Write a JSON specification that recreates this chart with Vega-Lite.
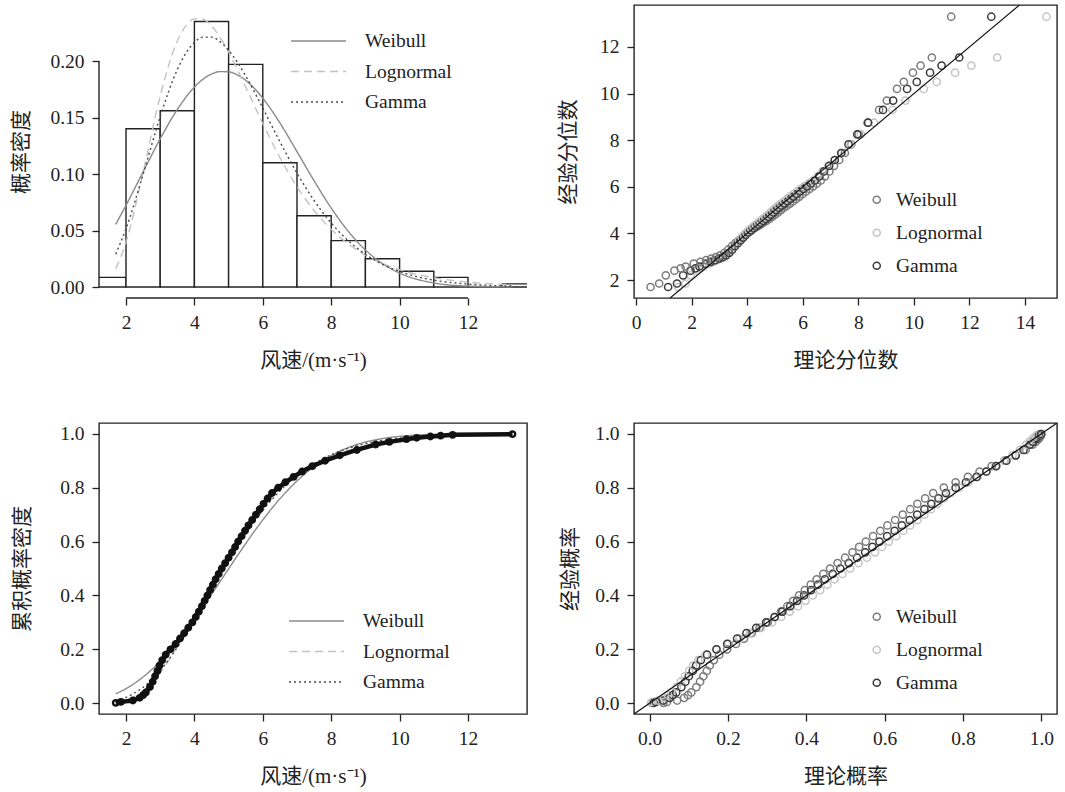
{
  "$schema": "https://vega.github.io/schema/vega-lite/v6.json",
  "autosize": {"type": "pad"},
  "padding": {"left": 10, "top": 4, "right": 5, "bottom": 5},
  "background": "white",
  "columns": 2,
  "spacing": {"row": 125, "column": 107},
  "bounds": "flush",
  "resolve": {
    "scale": {"x": "independent", "y": "independent", "color": "independent", "strokeDash": "independent"},
    "axis": {"x": "independent", "y": "independent"},
    "legend": {"color": "independent", "strokeDash": "independent"}
  },
  "config": {
    "font": "Liberation Serif, Times New Roman, serif",
    "view": {"stroke": "#222", "strokeWidth": 1.4},
    "axis": {
      "domain": false, "grid": false, "ticks": true, "tickColor": "#222", "tickWidth": 1.3, "tickSize": 7,
      "labelFont": "Liberation Serif, Times New Roman, serif", "labelFontSize": 19.5, "labelColor": "#222", "labelPadding": 8,
      "labelFlush": false, "labelOverlap": false,
      "titleFont": "Liberation Serif, Noto Sans CJK SC, serif", "titleFontSize": 21, "titleFontWeight": "normal", "titleColor": "#222"
    },
    "axisX": {"titlePadding": 18},
    "legend": {"labelFont": "Liberation Serif, Times New Roman, serif", "labelFontSize": 19.5, "labelColor": "#222", "padding": 0}
  },
  "datasets": {
    "hist": [
      {"lo": 1, "hi": 2, "d": 0.0085}, {"lo": 2, "hi": 3, "d": 0.140}, {"lo": 3, "hi": 4, "d": 0.156},
      {"lo": 4, "hi": 5, "d": 0.235}, {"lo": 5, "hi": 6, "d": 0.197}, {"lo": 6, "hi": 7, "d": 0.110},
      {"lo": 7, "hi": 8, "d": 0.063}, {"lo": 8, "hi": 9, "d": 0.041}, {"lo": 9, "hi": 10, "d": 0.025},
      {"lo": 10, "hi": 11, "d": 0.014}, {"lo": 11, "hi": 12, "d": 0.0085}, {"lo": 12, "hi": 13, "d": 0},
      {"lo": 13, "hi": 14, "d": 0.0028}
    ],
    "pdf": [
      {"x": 1.7, "Weibull": 0.0555, "Lognormal": 0.0161, "Gamma": 0.0291},
      {"x": 2.0, "Weibull": 0.0723, "Lognormal": 0.0396, "Gamma": 0.0515},
      {"x": 2.5, "Weibull": 0.1019, "Lognormal": 0.1014, "Gamma": 0.0998},
      {"x": 3.0, "Weibull": 0.1312, "Lognormal": 0.1691, "Gamma": 0.1509},
      {"x": 3.5, "Weibull": 0.1571, "Lognormal": 0.2177, "Gamma": 0.1924},
      {"x": 3.75, "Weibull": 0.1679, "Lognormal": 0.2311, "Gamma": 0.2068},
      {"x": 4.0, "Weibull": 0.1769, "Lognormal": 0.2373, "Gamma": 0.2164},
      {"x": 4.25, "Weibull": 0.1838, "Lognormal": 0.2369, "Gamma": 0.2211},
      {"x": 4.5, "Weibull": 0.1884, "Lognormal": 0.2311, "Gamma": 0.2211},
      {"x": 4.75, "Weibull": 0.1906, "Lognormal": 0.2210, "Gamma": 0.2171},
      {"x": 5.0, "Weibull": 0.1904, "Lognormal": 0.2080, "Gamma": 0.2095},
      {"x": 5.25, "Weibull": 0.1878, "Lognormal": 0.1930, "Gamma": 0.1992},
      {"x": 5.5, "Weibull": 0.1829, "Lognormal": 0.1770, "Gamma": 0.1868},
      {"x": 6.0, "Weibull": 0.1671, "Lognormal": 0.1446, "Gamma": 0.1583},
      {"x": 6.5, "Weibull": 0.1452, "Lognormal": 0.1146, "Gamma": 0.1286},
      {"x": 7.0, "Weibull": 0.1198, "Lognormal": 0.0888, "Gamma": 0.1008},
      {"x": 7.5, "Weibull": 0.0940, "Lognormal": 0.0677, "Gamma": 0.0766},
      {"x": 8.0, "Weibull": 0.0699, "Lognormal": 0.0510, "Gamma": 0.0566},
      {"x": 8.5, "Weibull": 0.0492, "Lognormal": 0.0381, "Gamma": 0.0409},
      {"x": 9.0, "Weibull": 0.0328, "Lognormal": 0.0282, "Gamma": 0.0289},
      {"x": 9.5, "Weibull": 0.0207, "Lognormal": 0.0208, "Gamma": 0.0200},
      {"x": 10.0, "Weibull": 0.0123, "Lognormal": 0.0153, "Gamma": 0.0137},
      {"x": 11.0, "Weibull": 0.0036, "Lognormal": 0.0083, "Gamma": 0.0061},
      {"x": 12.0, "Weibull": 0.0008, "Lognormal": 0.0044, "Gamma": 0.0026},
      {"x": 13.3, "Weibull": 0.0001, "Lognormal": 0.0020, "Gamma": 0.0008}
    ],
    "cdf": [
      {"x": 1.7, "Weibull": 0.0349, "Lognormal": 0.0035, "Gamma": 0.0101},
      {"x": 2.0, "Weibull": 0.0541, "Lognormal": 0.0115, "Gamma": 0.0220},
      {"x": 2.5, "Weibull": 0.0976, "Lognormal": 0.0459, "Gamma": 0.0591},
      {"x": 3.0, "Weibull": 0.1559, "Lognormal": 0.1139, "Gamma": 0.1214},
      {"x": 3.5, "Weibull": 0.2282, "Lognormal": 0.2117, "Gamma": 0.2075},
      {"x": 3.75, "Weibull": 0.2689, "Lognormal": 0.2679, "Gamma": 0.2575},
      {"x": 4.0, "Weibull": 0.3120, "Lognormal": 0.3266, "Gamma": 0.3104},
      {"x": 4.25, "Weibull": 0.3572, "Lognormal": 0.3860, "Gamma": 0.3653},
      {"x": 4.5, "Weibull": 0.4037, "Lognormal": 0.4446, "Gamma": 0.4209},
      {"x": 4.75, "Weibull": 0.4511, "Lognormal": 0.5012, "Gamma": 0.4759},
      {"x": 5.0, "Weibull": 0.4988, "Lognormal": 0.5549, "Gamma": 0.5295},
      {"x": 5.25, "Weibull": 0.5461, "Lognormal": 0.6050, "Gamma": 0.5808},
      {"x": 5.5, "Weibull": 0.5925, "Lognormal": 0.6513, "Gamma": 0.6293},
      {"x": 6.0, "Weibull": 0.6803, "Lognormal": 0.7317, "Gamma": 0.7160},
      {"x": 6.5, "Weibull": 0.7586, "Lognormal": 0.7963, "Gamma": 0.7878},
      {"x": 7.0, "Weibull": 0.8250, "Lognormal": 0.8469, "Gamma": 0.8450},
      {"x": 7.5, "Weibull": 0.8783, "Lognormal": 0.8859, "Gamma": 0.8891},
      {"x": 8.0, "Weibull": 0.9192, "Lognormal": 0.9154, "Gamma": 0.9221},
      {"x": 8.5, "Weibull": 0.9488, "Lognormal": 0.9375, "Gamma": 0.9461},
      {"x": 9.0, "Weibull": 0.9691, "Lognormal": 0.9540, "Gamma": 0.9633},
      {"x": 9.5, "Weibull": 0.9823, "Lognormal": 0.9662, "Gamma": 0.9754},
      {"x": 10.0, "Weibull": 0.9904, "Lognormal": 0.9751, "Gamma": 0.9836},
      {"x": 11.0, "Weibull": 0.9976, "Lognormal": 0.9865, "Gamma": 0.9930},
      {"x": 12.0, "Weibull": 0.9995, "Lognormal": 0.9927, "Gamma": 0.9971},
      {"x": 13.3, "Weibull": 1.0000, "Lognormal": 0.9967, "Gamma": 0.9991}
    ],
    "qq": [
      {"p": 0.0014, "emp": 1.70, "Weibull": 0.524, "Lognormal": 1.524, "Gamma": 1.156},
      {"p": 0.005, "emp": 1.85, "Weibull": 0.834, "Lognormal": 1.783, "Gamma": 1.476},
      {"p": 0.01, "emp": 2.20, "Weibull": 1.074, "Lognormal": 1.960, "Gamma": 1.696},
      {"p": 0.02, "emp": 2.40, "Weibull": 1.384, "Lognormal": 2.174, "Gamma": 1.959},
      {"p": 0.03, "emp": 2.50, "Weibull": 1.607, "Lognormal": 2.322, "Gamma": 2.139},
      {"p": 0.04, "emp": 2.58, "Weibull": 1.788, "Lognormal": 2.439, "Gamma": 2.282},
      {"p": 0.06, "emp": 2.70, "Weibull": 2.079, "Lognormal": 2.628, "Gamma": 2.509},
      {"p": 0.08, "emp": 2.78, "Weibull": 2.318, "Lognormal": 2.782, "Gamma": 2.692},
      {"p": 0.10, "emp": 2.85, "Weibull": 2.523, "Lognormal": 2.915, "Gamma": 2.850},
      {"p": 0.12, "emp": 2.92, "Weibull": 2.707, "Lognormal": 3.036, "Gamma": 2.990},
      {"p": 0.14, "emp": 2.98, "Weibull": 2.875, "Lognormal": 3.147, "Gamma": 3.120},
      {"p": 0.16, "emp": 3.06, "Weibull": 3.031, "Lognormal": 3.251, "Gamma": 3.239},
      {"p": 0.18, "emp": 3.16, "Weibull": 3.177, "Lognormal": 3.351, "Gamma": 3.353},
      {"p": 0.20, "emp": 3.30, "Weibull": 3.315, "Lognormal": 3.446, "Gamma": 3.461},
      {"p": 0.22, "emp": 3.45, "Weibull": 3.447, "Lognormal": 3.538, "Gamma": 3.564},
      {"p": 0.24, "emp": 3.58, "Weibull": 3.574, "Lognormal": 3.628, "Gamma": 3.665},
      {"p": 0.26, "emp": 3.70, "Weibull": 3.697, "Lognormal": 3.716, "Gamma": 3.762},
      {"p": 0.28, "emp": 3.82, "Weibull": 3.816, "Lognormal": 3.802, "Gamma": 3.858},
      {"p": 0.30, "emp": 3.94, "Weibull": 3.932, "Lognormal": 3.887, "Gamma": 3.952},
      {"p": 0.32, "emp": 4.04, "Weibull": 4.045, "Lognormal": 3.972, "Gamma": 4.044},
      {"p": 0.34, "emp": 4.13, "Weibull": 4.156, "Lognormal": 4.057, "Gamma": 4.135},
      {"p": 0.36, "emp": 4.22, "Weibull": 4.266, "Lognormal": 4.141, "Gamma": 4.226},
      {"p": 0.38, "emp": 4.30, "Weibull": 4.373, "Lognormal": 4.225, "Gamma": 4.316},
      {"p": 0.40, "emp": 4.38, "Weibull": 4.480, "Lognormal": 4.309, "Gamma": 4.406},
      {"p": 0.42, "emp": 4.46, "Weibull": 4.586, "Lognormal": 4.395, "Gamma": 4.496},
      {"p": 0.44, "emp": 4.54, "Weibull": 4.692, "Lognormal": 4.480, "Gamma": 4.586},
      {"p": 0.46, "emp": 4.62, "Weibull": 4.797, "Lognormal": 4.567, "Gamma": 4.677},
      {"p": 0.48, "emp": 4.71, "Weibull": 4.901, "Lognormal": 4.655, "Gamma": 4.769},
      {"p": 0.50, "emp": 4.80, "Weibull": 5.006, "Lognormal": 4.745, "Gamma": 4.861},
      {"p": 0.52, "emp": 4.90, "Weibull": 5.111, "Lognormal": 4.837, "Gamma": 4.955},
      {"p": 0.54, "emp": 5.00, "Weibull": 5.217, "Lognormal": 4.930, "Gamma": 5.050},
      {"p": 0.56, "emp": 5.10, "Weibull": 5.324, "Lognormal": 5.025, "Gamma": 5.147},
      {"p": 0.58, "emp": 5.19, "Weibull": 5.432, "Lognormal": 5.123, "Gamma": 5.246},
      {"p": 0.60, "emp": 5.28, "Weibull": 5.541, "Lognormal": 5.224, "Gamma": 5.347},
      {"p": 0.62, "emp": 5.38, "Weibull": 5.652, "Lognormal": 5.329, "Gamma": 5.451},
      {"p": 0.64, "emp": 5.48, "Weibull": 5.765, "Lognormal": 5.437, "Gamma": 5.558},
      {"p": 0.66, "emp": 5.58, "Weibull": 5.880, "Lognormal": 5.550, "Gamma": 5.668},
      {"p": 0.68, "emp": 5.69, "Weibull": 5.998, "Lognormal": 5.667, "Gamma": 5.782},
      {"p": 0.70, "emp": 5.80, "Weibull": 6.119, "Lognormal": 5.791, "Gamma": 5.901},
      {"p": 0.72, "emp": 5.91, "Weibull": 6.245, "Lognormal": 5.921, "Gamma": 6.025},
      {"p": 0.74, "emp": 6.02, "Weibull": 6.375, "Lognormal": 6.058, "Gamma": 6.156},
      {"p": 0.76, "emp": 6.14, "Weibull": 6.510, "Lognormal": 6.205, "Gamma": 6.294},
      {"p": 0.78, "emp": 6.27, "Weibull": 6.651, "Lognormal": 6.362, "Gamma": 6.440},
      {"p": 0.80, "emp": 6.45, "Weibull": 6.801, "Lognormal": 6.532, "Gamma": 6.597},
      {"p": 0.82, "emp": 6.66, "Weibull": 6.959, "Lognormal": 6.718, "Gamma": 6.766},
      {"p": 0.84, "emp": 6.90, "Weibull": 7.129, "Lognormal": 6.923, "Gamma": 6.951},
      {"p": 0.86, "emp": 7.15, "Weibull": 7.314, "Lognormal": 7.152, "Gamma": 7.154},
      {"p": 0.88, "emp": 7.45, "Weibull": 7.518, "Lognormal": 7.415, "Gamma": 7.385},
      {"p": 0.90, "emp": 7.82, "Weibull": 7.747, "Lognormal": 7.721, "Gamma": 7.649},
      {"p": 0.92, "emp": 8.25, "Weibull": 8.012, "Lognormal": 8.092, "Gamma": 7.963},
      {"p": 0.94, "emp": 8.75, "Weibull": 8.332, "Lognormal": 8.567, "Gamma": 8.357},
      {"p": 0.96, "emp": 9.30, "Weibull": 8.750, "Lognormal": 9.230, "Gamma": 8.890},
      {"p": 0.97, "emp": 9.70, "Weibull": 9.027, "Lognormal": 9.696, "Gamma": 9.255},
      {"p": 0.98, "emp": 10.2, "Weibull": 9.393, "Lognormal": 10.356, "Gamma": 9.757},
      {"p": 0.985, "emp": 10.5, "Weibull": 9.639, "Lognormal": 10.823, "Gamma": 10.105},
      {"p": 0.99, "emp": 10.9, "Weibull": 9.967, "Lognormal": 11.484, "Gamma": 10.583},
      {"p": 0.993, "emp": 11.2, "Weibull": 10.242, "Lognormal": 12.071, "Gamma": 10.998},
      {"p": 0.996, "emp": 11.55, "Weibull": 10.648, "Lognormal": 12.999, "Gamma": 11.633},
      {"p": 0.9986, "emp": 13.3, "Weibull": 11.343, "Lognormal": 14.773, "Gamma": 12.787}
    ],
    "pp": [
      {"p": 0.0014, "Weibull": 0.0351, "Lognormal": 0.0035, "Gamma": 0.0101},
      {"p": 0.005, "Weibull": 0.0443, "Lognormal": 0.0069, "Gamma": 0.0159},
      {"p": 0.01, "Weibull": 0.0701, "Lognormal": 0.0218, "Gamma": 0.0343},
      {"p": 0.02, "Weibull": 0.0880, "Lognormal": 0.0367, "Gamma": 0.0504},
      {"p": 0.03, "Weibull": 0.0978, "Lognormal": 0.0465, "Gamma": 0.0592},
      {"p": 0.04, "Weibull": 0.1062, "Lognormal": 0.0549, "Gamma": 0.0678},
      {"p": 0.06, "Weibull": 0.1192, "Lognormal": 0.0694, "Gamma": 0.0810},
      {"p": 0.08, "Weibull": 0.1287, "Lognormal": 0.0797, "Gamma": 0.0911},
      {"p": 0.10, "Weibull": 0.1370, "Lognormal": 0.0902, "Gamma": 0.1000},
      {"p": 0.12, "Weibull": 0.1458, "Lognormal": 0.1008, "Gamma": 0.1100},
      {"p": 0.14, "Weibull": 0.1535, "Lognormal": 0.1107, "Gamma": 0.1186},
      {"p": 0.16, "Weibull": 0.1640, "Lognormal": 0.1243, "Gamma": 0.1308},
      {"p": 0.18, "Weibull": 0.1777, "Lognormal": 0.1425, "Gamma": 0.1467},
      {"p": 0.20, "Weibull": 0.1978, "Lognormal": 0.1698, "Gamma": 0.1707},
      {"p": 0.22, "Weibull": 0.2205, "Lognormal": 0.2009, "Gamma": 0.1980},
      {"p": 0.24, "Weibull": 0.2410, "Lognormal": 0.2293, "Gamma": 0.2232},
      {"p": 0.26, "Weibull": 0.2605, "Lognormal": 0.2564, "Gamma": 0.2472},
      {"p": 0.28, "Weibull": 0.2807, "Lognormal": 0.2842, "Gamma": 0.2721},
      {"p": 0.30, "Weibull": 0.3014, "Lognormal": 0.3125, "Gamma": 0.2974},
      {"p": 0.32, "Weibull": 0.3191, "Lognormal": 0.3360, "Gamma": 0.3191},
      {"p": 0.34, "Weibull": 0.3353, "Lognormal": 0.3574, "Gamma": 0.3389},
      {"p": 0.36, "Weibull": 0.3516, "Lognormal": 0.3788, "Gamma": 0.3587},
      {"p": 0.38, "Weibull": 0.3664, "Lognormal": 0.3979, "Gamma": 0.3764},
      {"p": 0.40, "Weibull": 0.3813, "Lognormal": 0.4165, "Gamma": 0.3942},
      {"p": 0.42, "Weibull": 0.3963, "Lognormal": 0.4353, "Gamma": 0.4120},
      {"p": 0.44, "Weibull": 0.4113, "Lognormal": 0.4538, "Gamma": 0.4298},
      {"p": 0.46, "Weibull": 0.4264, "Lognormal": 0.4720, "Gamma": 0.4475},
      {"p": 0.48, "Weibull": 0.4434, "Lognormal": 0.4922, "Gamma": 0.4672},
      {"p": 0.50, "Weibull": 0.4606, "Lognormal": 0.5120, "Gamma": 0.4867},
      {"p": 0.52, "Weibull": 0.4798, "Lognormal": 0.5335, "Gamma": 0.5083},
      {"p": 0.54, "Weibull": 0.4989, "Lognormal": 0.5547, "Gamma": 0.5295},
      {"p": 0.56, "Weibull": 0.5179, "Lognormal": 0.5753, "Gamma": 0.5503},
      {"p": 0.58, "Weibull": 0.5349, "Lognormal": 0.5933, "Gamma": 0.5687},
      {"p": 0.60, "Weibull": 0.5518, "Lognormal": 0.6107, "Gamma": 0.5867},
      {"p": 0.62, "Weibull": 0.5704, "Lognormal": 0.6294, "Gamma": 0.6063},
      {"p": 0.64, "Weibull": 0.5888, "Lognormal": 0.6476, "Gamma": 0.6254},
      {"p": 0.66, "Weibull": 0.6070, "Lognormal": 0.6651, "Gamma": 0.6440},
      {"p": 0.68, "Weibull": 0.6267, "Lognormal": 0.6837, "Gamma": 0.6639},
      {"p": 0.70, "Weibull": 0.6461, "Lognormal": 0.7014, "Gamma": 0.6830},
      {"p": 0.72, "Weibull": 0.6651, "Lognormal": 0.7183, "Gamma": 0.7015},
      {"p": 0.74, "Weibull": 0.6836, "Lognormal": 0.7345, "Gamma": 0.7192},
      {"p": 0.76, "Weibull": 0.7033, "Lognormal": 0.7512, "Gamma": 0.7376},
      {"p": 0.78, "Weibull": 0.7238, "Lognormal": 0.7683, "Gamma": 0.7565},
      {"p": 0.80, "Weibull": 0.7511, "Lognormal": 0.7904, "Gamma": 0.7813},
      {"p": 0.82, "Weibull": 0.7812, "Lognormal": 0.8138, "Gamma": 0.8075},
      {"p": 0.84, "Weibull": 0.8125, "Lognormal": 0.8378, "Gamma": 0.8345},
      {"p": 0.86, "Weibull": 0.8423, "Lognormal": 0.8598, "Gamma": 0.8596},
      {"p": 0.88, "Weibull": 0.8733, "Lognormal": 0.8823, "Gamma": 0.8849},
      {"p": 0.90, "Weibull": 0.9055, "Lognormal": 0.9053, "Gamma": 0.9109},
      {"p": 0.92, "Weibull": 0.9349, "Lognormal": 0.9267, "Gamma": 0.9346},
      {"p": 0.94, "Weibull": 0.9600, "Lognormal": 0.9455, "Gamma": 0.9547},
      {"p": 0.96, "Weibull": 0.9775, "Lognormal": 0.9615, "Gamma": 0.9709},
      {"p": 0.97, "Weibull": 0.9859, "Lognormal": 0.9701, "Gamma": 0.9789},
      {"p": 0.98, "Weibull": 0.9925, "Lognormal": 0.9776, "Gamma": 0.9860},
      {"p": 0.985, "Weibull": 0.9949, "Lognormal": 0.9815, "Gamma": 0.9891},
      {"p": 0.99, "Weibull": 0.9969, "Lognormal": 0.9856, "Gamma": 0.9923},
      {"p": 0.993, "Weibull": 0.9981, "Lognormal": 0.9879, "Gamma": 0.9940},
      {"p": 0.996, "Weibull": 0.9988, "Lognormal": 0.9903, "Gamma": 0.9956},
      {"p": 0.9986, "Weibull": 1.0000, "Lognormal": 0.9967, "Gamma": 0.9991}
    ]
  },
  "concat": [
    {
      "width": 428, "height": 293,
      "view": {"stroke": null},
      "layer": [
        {
          "data": {"name": "hist"},
          "mark": {"type": "rect", "fill": "white", "stroke": "#222", "strokeWidth": 1.4, "clip": true},
          "encoding": {
            "x": {"field": "lo", "type": "quantitative", "title": "风速/(m·s⁻¹)",
                  "scale": {"domain": [1.2105, 13.725], "nice": false, "zero": false},
                  "axis": {"values": [2, 4, 6, 8, 10, 12]}},
            "x2": {"field": "hi"},
            "y": {"field": "d", "type": "quantitative", "title": "概率密度",
                  "scale": {"domain": [-0.00973, 0.24956], "nice": false, "zero": false},
                  "axis": {"values": [0, 0.05, 0.1, 0.15, 0.2], "format": ".2f", "titlePadding": 18}},
            "y2": {"datum": 0}
          }
        },
        {
          "data": {"name": "pdf"},
          "transform": [{"fold": ["Weibull", "Lognormal", "Gamma"], "as": ["dist", "f"]}],
          "mark": {"type": "line", "strokeWidth": 1.4, "clip": true, "interpolate": "monotone"},
          "encoding": {
            "x": {"field": "x", "type": "quantitative", "title": "风速/(m·s⁻¹)"},
            "y": {"field": "f", "type": "quantitative", "title": "概率密度"},
            "color": {"field": "dist", "type": "nominal",
                      "scale": {"domain": ["Weibull", "Lognormal", "Gamma"], "range": ["#8a8a8a", "#c2c2c2", "#4a4a4a"]},
                      "legend": {"title": null, "orient": "none", "legendX": 205, "legendY": 21.5, "symbolType": "M-2,0H2", "symbolSize": 756, "symbolStrokeWidth": 1.4, "labelOffset": 32, "rowPadding": 6.5}},
            "strokeDash": {"field": "dist", "type": "nominal",
                      "scale": {"domain": ["Weibull", "Lognormal", "Gamma"], "range": [[1, 0], [8, 5], [2, 3]]},
                      "legend": {"title": null, "orient": "none", "legendX": 205, "legendY": 21.5, "symbolType": "M-2,0H2", "symbolSize": 756, "symbolStrokeWidth": 1.4, "labelOffset": 32, "rowPadding": 6.5}}
          }
        },
        {
          "data": {"values": [{}]},
          "mark": {"type": "rule", "color": "#222", "strokeWidth": 1.4},
          "encoding": {"x": {"datum": 2}, "x2": {"datum": 12}, "y": {"datum": -0.00973}}
        },
        {
          "data": {"values": [{}]},
          "mark": {"type": "rule", "color": "#222", "strokeWidth": 1.4},
          "encoding": {"x": {"datum": 1.2105}, "y": {"datum": 0}, "y2": {"datum": 0.2}}
        }
      ]
    },
    {
      "width": 423, "height": 293,
      "layer": [
        {
          "data": {"name": "qq"},
          "transform": [{"fold": ["Weibull", "Lognormal", "Gamma"], "as": ["dist", "q"]}],
          "mark": {"type": "point", "shape": "circle", "filled": false, "size": 52, "strokeWidth": 1.5, "opacity": 1, "clip": true},
          "encoding": {
            "x": {"field": "q", "type": "quantitative", "title": "理论分位数",
                  "scale": {"domain": [-0.072, 15.152], "nice": false, "zero": false},
                  "axis": {"values": [0, 2, 4, 6, 8, 10, 12, 14]}},
            "y": {"field": "emp", "type": "quantitative", "title": "经验分位数",
                  "scale": {"domain": [1.2275, 13.8025], "nice": false, "zero": false},
                  "axis": {"values": [2, 4, 6, 8, 10, 12], "titlePadding": 21}},
            "color": {"field": "dist", "type": "nominal",
                      "scale": {"domain": ["Weibull", "Lognormal", "Gamma"], "range": ["#7c7c7c", "#c4c4c4", "#3a3a3a"]},
                      "legend": {"title": null, "orient": "none", "legendX": 233, "legendY": 185, "symbolType": "circle", "symbolSize": 50, "symbolStrokeWidth": 1.5, "labelOffset": 9.5, "rowPadding": 12}}
          }
        },
        {
          "data": {"values": [{"v": 0}, {"v": 16}]},
          "mark": {"type": "line", "color": "#111", "strokeWidth": 1.2, "clip": true},
          "encoding": {
            "x": {"field": "v", "type": "quantitative", "title": "理论分位数"},
            "y": {"field": "v", "type": "quantitative", "title": "经验分位数"}
          }
        }
      ]
    },
    {
      "width": 428, "height": 291,
      "layer": [
        {
          "data": {"name": "cdf"},
          "transform": [{"fold": ["Weibull", "Lognormal", "Gamma"], "as": ["dist", "F"]}],
          "mark": {"type": "line", "strokeWidth": 1.4, "clip": true, "interpolate": "monotone"},
          "encoding": {
            "x": {"field": "x", "type": "quantitative", "title": "风速/(m·s⁻¹)",
                  "scale": {"domain": [1.2105, 13.725], "nice": false, "zero": false},
                  "axis": {"values": [2, 4, 6, 8, 10, 12]}},
            "y": {"field": "F", "type": "quantitative", "title": "累积概率密度",
                  "scale": {"domain": [-0.04, 1.04], "nice": false, "zero": false},
                  "axis": {"values": [0, 0.2, 0.4, 0.6, 0.8, 1.0], "format": ".1f", "titlePadding": 27}},
            "color": {"field": "dist", "type": "nominal",
                      "scale": {"domain": ["Weibull", "Lognormal", "Gamma"], "range": ["#8a8a8a", "#c2c2c2", "#4a4a4a"]},
                      "legend": {"title": null, "orient": "none", "legendX": 203, "legendY": 183.5, "symbolType": "M-2,0H2", "symbolSize": 756, "symbolStrokeWidth": 1.4, "labelOffset": 32, "rowPadding": 6.5}},
            "strokeDash": {"field": "dist", "type": "nominal",
                      "scale": {"domain": ["Weibull", "Lognormal", "Gamma"], "range": [[1, 0], [8, 5], [2, 3]]},
                      "legend": {"title": null, "orient": "none", "legendX": 203, "legendY": 183.5, "symbolType": "M-2,0H2", "symbolSize": 756, "symbolStrokeWidth": 1.4, "labelOffset": 32, "rowPadding": 6.5}}
          }
        },
        {
          "data": {"name": "qq"},
          "mark": {"type": "line", "color": "#111", "strokeWidth": 4.5, "clip": true},
          "encoding": {
            "x": {"field": "emp", "type": "quantitative", "title": "风速/(m·s⁻¹)"},
            "y": {"field": "p", "type": "quantitative", "title": "累积概率密度"}
          }
        },
        {
          "data": {"name": "qq"},
          "mark": {"type": "point", "shape": "circle", "filled": false, "size": 30, "strokeWidth": 2.4, "color": "#111", "opacity": 1, "clip": true},
          "encoding": {
            "x": {"field": "emp", "type": "quantitative", "title": "风速/(m·s⁻¹)"},
            "y": {"field": "p", "type": "quantitative", "title": "累积概率密度"}
          }
        }
      ]
    },
    {
      "width": 423, "height": 291,
      "layer": [
        {
          "data": {"name": "pp"},
          "transform": [{"fold": ["Weibull", "Lognormal", "Gamma"], "as": ["dist", "F"]}],
          "mark": {"type": "point", "shape": "circle", "filled": false, "size": 52, "strokeWidth": 1.5, "opacity": 1, "clip": true},
          "encoding": {
            "x": {"field": "F", "type": "quantitative", "title": "理论概率",
                  "scale": {"domain": [-0.04, 1.04], "nice": false, "zero": false},
                  "axis": {"values": [0, 0.2, 0.4, 0.6, 0.8, 1.0], "format": ".1f"}},
            "y": {"field": "p", "type": "quantitative", "title": "经验概率",
                  "scale": {"domain": [-0.04, 1.04], "nice": false, "zero": false},
                  "axis": {"values": [0, 0.2, 0.4, 0.6, 0.8, 1.0], "format": ".1f", "titlePadding": 14}},
            "color": {"field": "dist", "type": "nominal",
                      "scale": {"domain": ["Weibull", "Lognormal", "Gamma"], "range": ["#7c7c7c", "#c4c4c4", "#3a3a3a"]},
                      "legend": {"title": null, "orient": "none", "legendX": 233, "legendY": 184, "symbolType": "circle", "symbolSize": 50, "symbolStrokeWidth": 1.5, "labelOffset": 9.5, "rowPadding": 12}}
          }
        },
        {
          "data": {"values": [{"v": -0.1}, {"v": 1.1}]},
          "mark": {"type": "line", "color": "#111", "strokeWidth": 1.2, "clip": true},
          "encoding": {
            "x": {"field": "v", "type": "quantitative", "title": "理论概率"},
            "y": {"field": "v", "type": "quantitative", "title": "经验概率"}
          }
        }
      ]
    }
  ]
}
